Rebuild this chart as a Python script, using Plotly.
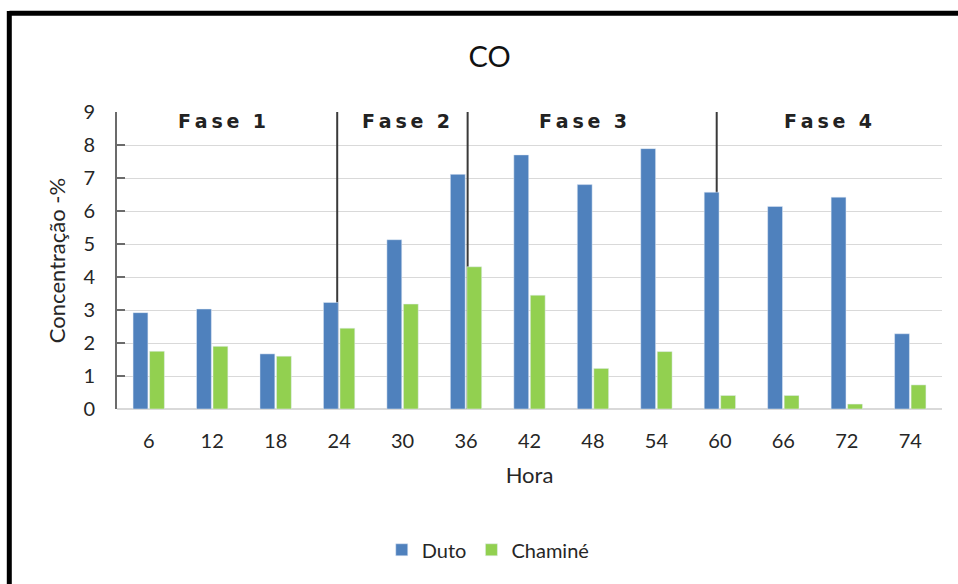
import plotly.graph_objects as go

# Hours of sampling and CO concentration (%) at the duct and the chimney
horas = ["6", "12", "18", "24", "30", "36", "42", "48", "54", "60", "66", "72", "74"]
duto = [2.92, 3.03, 1.67, 3.23, 5.13, 7.11, 7.70, 6.80, 7.89, 6.57, 6.14, 6.42, 2.28]
chamine = [1.75, 1.90, 1.60, 2.45, 3.18, 4.31, 3.45, 1.23, 1.74, 0.41, 0.41, 0.15, 0.73]

# Phase boundaries (category index, small nudge) and phase label positions
fase_limites = [2.97, 5.025, 8.95]
fase_nomes = ["Fase 1", "Fase 2", "Fase 3", "Fase 4"]
fase_centros = [1.15, 4.05, 6.85, 10.7]

AZUL = "#4f81bd"
VERDE = "#92d050"
FONTE = "Lato, 'Noto Sans', sans-serif"
TXT = "#262626"


def espacar(nome):
    palavra, numero = nome.split(" ")
    return "\u2009".join(palavra) + "\u2002\u2009" + numero


fig = go.Figure()
fig.add_trace(go.Bar(x=horas, y=duto, name="Duto", marker_color=AZUL))
fig.add_trace(go.Bar(x=horas, y=chamine, name="Chaminé", marker_color=VERDE))

# Vertical separators between phases, drawn behind the bars
for xv in fase_limites:
    fig.add_shape(type="line", xref="x", yref="y", x0=xv, x1=xv, y0=0, y1=9,
                  line=dict(color="#3a3a3a", width=2), layer="between")

# Phase captions along the top of the plot
for nome, xc in zip(fase_nomes, fase_centros):
    fig.add_annotation(x=xc, y=8.73, xref="x", yref="y", text=espacar(nome),
                       showarrow=False, xanchor="center", yanchor="middle",
                       font=dict(family="'DejaVu Sans', sans-serif", size=19,
                                 color="#222222", weight="bold"))

# Black frame along the top and left edges
fig.add_shape(type="line", xref="paper", yref="paper",
              x0=(9.5 - 117) / 825, x1=(960 - 117) / 825,
              y0=(409 - 12.8) / 297.3, y1=(409 - 12.8) / 297.3,
              line=dict(color="black", width=5), layer="above")
fig.add_shape(type="line", xref="paper", yref="paper",
              x0=(9.3 - 117) / 825, x1=(9.3 - 117) / 825,
              y0=(409 - 10.5) / 297.3, y1=(409 - 590) / 297.3,
              line=dict(color="black", width=5), layer="above")

fig.update_layout(
    width=958, height=584,
    margin=dict(l=117, r=16, t=111.7, b=175),
    paper_bgcolor="white", plot_bgcolor="white",
    barmode="group", bargap=0.48, bargroupgap=0.1,
    font=dict(family=FONTE, color=TXT),
    title=dict(text="CO", x=0.511, xref="container", xanchor="center",
               y=1 - 57 / 584, yanchor="middle",
               font=dict(family=FONTE, size=29, color="#111111")),
    legend=dict(orientation="h", x=0.45, xanchor="center",
                y=-0.474, yanchor="middle",
                font=dict(family=FONTE, size=20, color=TXT),
                itemwidth=30, traceorder="normal"),
    xaxis=dict(
        type="category",
        title=dict(text="Hora", font=dict(family=FONTE, size=22, color=TXT),
                   standoff=16),
        tickfont=dict(family=FONTE, size=20, color=TXT),
        ticks="", showgrid=False, showline=False, zeroline=False,
        ticklabelstandoff=18,
    ),
    yaxis=dict(
        range=[0, 9], dtick=1,
        title=dict(text="Concentração -%", font=dict(family=FONTE, size=22, color=TXT),
                   standoff=12),
        tickfont=dict(family=FONTE, size=20, color=TXT),
        showgrid=True, gridcolor="#d9d9d9", gridwidth=1.2,
        zeroline=True, zerolinecolor="#d9d9d9", zerolinewidth=1.5,
        showline=True, linecolor="#6b6b6b", linewidth=2,
        ticks="inside", ticklen=8, tickcolor="#6b6b6b", tickwidth=1.5,
        ticklabelstandoff=16,
    ),
)

fig.write_html("out.html")
